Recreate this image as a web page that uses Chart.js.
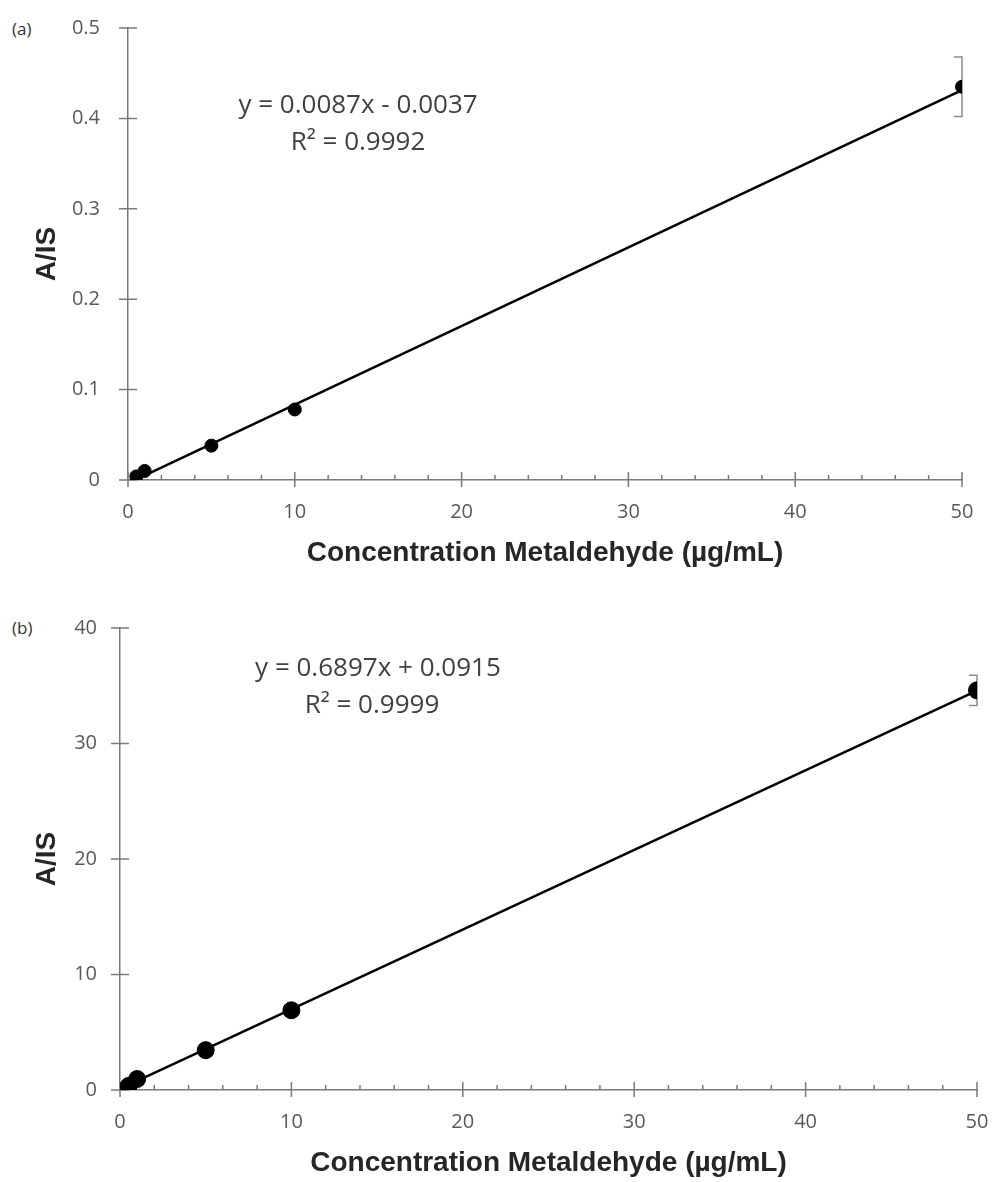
<!DOCTYPE html>
<html>
<head>
<meta charset="utf-8">
<script src="https://cdn.jsdelivr.net/npm/chart.js@4"></script>
<style>
  body { margin: 0; background: #fff; }
  .wrap { position: relative; width: 995px; height: 1182px; }
  canvas { position: absolute; left: 0; }
  .tag { position: absolute; left: 12px; font: 17px/22px "Open Sans", sans-serif; color: #333; }
</style>
</head>
<body>
<div class="wrap">
  <div class="tag" style="top:18px">(a)</div>
  <canvas id="chartA" width="995" height="580" style="top:0"></canvas>
  <div class="tag" style="top:617px">(b)</div>
  <canvas id="chartB" width="995" height="602" style="top:580px"></canvas>
</div>
<script>
// concentrations (µg/mL)
const concA = [0.5, 1, 5, 10, 50];
const ratioA = [0.004, 0.010, 0.038, 0.078, 0.435];
const errA = [0, 0, 0, 0, 0.033];
const trendXA = [0.5, 50];
const trendYA = [0.0007, 0.4313];

const concB = [0.5, 1, 5, 10, 50];
const ratioB = [0.35, 0.95, 3.45, 6.9, 34.6];
const errB = [0, 0, 0, 0, 1.3];
const trendXB = [0.5, 50];
const trendYB = [0.436, 34.58];

const xTitle = 'Concentration Metaldehyde (µg/mL)';
const yTitle = 'A/IS';

const AXIS = '#7a7a7a';
const TICK_FONT = { family: '"Open Sans", sans-serif', size: 20 };
const TITLE_FONT = { family: '"Liberation Sans", Arial, sans-serif', size: 28, weight: 'bold' };

// cross ticks, minor ticks, error bars and fit equation
const decor = {
  id: 'decor',
  beforeDatasetsDraw(chart, args, opts) {
    const ctx = chart.ctx;
    const x = chart.scales.x, y = chart.scales.y;
    const x0 = x.getPixelForValue(0), y0 = y.getPixelForValue(0);
    ctx.save();
    ctx.strokeStyle = AXIS;
    ctx.lineWidth = 1.5;
    ctx.beginPath();
    y.ticks.forEach(t => {
      const py = y.getPixelForValue(t.value);
      ctx.moveTo(x0 - 9, py); ctx.lineTo(x0 + 9, py);
    });
    x.ticks.forEach(t => {
      const px = x.getPixelForValue(t.value);
      ctx.moveTo(px, y0 - 8); ctx.lineTo(px, y0 + 7);
    });
    for (let v = opts.minor; v < x.max; v += opts.minor) {
      const px = x.getPixelForValue(v);
      ctx.moveTo(px, y0); ctx.lineTo(px, y0 - 5);
    }
    ctx.stroke();

    // error bars
    const ds = chart.data.datasets[0];
    ctx.strokeStyle = '#8a8a8a';
    ctx.lineWidth = 1.5;
    ctx.beginPath();
    ds.data.forEach((p, i) => {
      const e = opts.err[i];
      if (!e) return;
      const px = x.getPixelForValue(p.x);
      const hi = y.getPixelForValue(p.y + e), lo = y.getPixelForValue(p.y - e);
      ctx.moveTo(px - 8, hi); ctx.lineTo(px, hi); ctx.lineTo(px, lo); ctx.lineTo(px - 8, lo);
    });
    ctx.stroke();
    ctx.restore();
  },
  afterDraw(chart, args, opts) {
    const ctx = chart.ctx;
    const x = chart.scales.x, y = chart.scales.y;
    ctx.save();
    ctx.fillStyle = '#404040';
    ctx.font = '26px "Open Sans", sans-serif';
    ctx.textAlign = 'center';
    ctx.textBaseline = 'middle';
    const eq = opts.eq;
    ctx.fillText(eq.text, x.getPixelForValue(eq.x), y.getPixelForValue(eq.y));
    const r = opts.r2;
    ctx.fillText('R² = ' + r.text, x.getPixelForValue(r.x), y.getPixelForValue(r.y));
    ctx.restore();
  }
};

function makeChart(id, conc, ratio, tx, ty, cfg) {
  return new Chart(document.getElementById(id), {
    type: 'scatter',
    data: {
      datasets: [
        {
          data: conc.map((c, i) => ({ x: c, y: ratio[i] })),
          backgroundColor: '#000',
          borderColor: '#000',
          pointRadius: cfg.radius,
          order: 0
        },
        {
          type: 'line',
          data: tx.map((c, i) => ({ x: c, y: ty[i] })),
          borderColor: '#000',
          borderWidth: 2.5,
          pointRadius: 0,
          order: 1
        }
      ]
    },
    options: {
      responsive: false,
      animation: false,
      layout: { padding: { top: cfg.top, right: cfg.right, left: 0, bottom: 0 } },
      plugins: {
        legend: { display: false },
        tooltip: { enabled: false },
        decor: { minor: 2, err: cfg.err, eq: cfg.eq, r2: cfg.r2 }
      },
      scales: {
        x: {
          type: 'linear',
          min: 0, max: 50,
          ticks: { stepSize: 10, color: '#595959', font: TICK_FONT, padding: cfg.xPad, maxRotation: 0 },
          grid: { display: true, drawOnChartArea: false, drawTicks: false },
          border: { display: true, color: AXIS, width: 1.5 },
          title: { display: true, text: xTitle, color: '#262626', font: TITLE_FONT, padding: { top: 0, bottom: cfg.xTitlePad } },
          afterFit: s => { s.height = cfg.xHeight; s.paddingLeft = 0; s.paddingRight = 0; }
        },
        y: {
          type: 'linear',
          min: 0, max: cfg.yMax,
          ticks: { stepSize: cfg.yStep, color: '#595959', font: TICK_FONT, padding: cfg.yPad },
          grid: { display: true, drawOnChartArea: false, drawTicks: false },
          border: { display: true, color: AXIS, width: 1.5 },
          title: { display: true, text: yTitle, color: '#262626', font: TITLE_FONT, padding: { top: 30, bottom: 0 } },
          afterFit: s => { s.width = cfg.yWidth; s.paddingTop = 0; s.paddingBottom = 0; }
        }
      }
    },
    plugins: [decor]
  });
}

makeChart('chartA', concA, ratioA, trendXA, trendYA, {
  radius: 6.5, top: 28, right: 33, xHeight: 100, yWidth: 128,
  xPad: 20, yPad: 28, xTitlePad: 10, yMax: 0.5, yStep: 0.1, err: errA,
  eq: { text: 'y = 0.0087x - 0.0037', x: 13.79, y: 0.4137 },
  r2: { text: '0.9992', x: 13.79, y: 0.3728 }
});

makeChart('chartB', concB, ratioB, trendXB, trendYB, {
  radius: 8.5, top: 48, right: 18, xHeight: 92, yWidth: 120,
  xPad: 20, yPad: 23, xTitlePad: 2, yMax: 40, yStep: 10, err: errB,
  eq: { text: 'y = 0.6897x + 0.0915', x: 15.05, y: 36.45 },
  r2: { text: '0.9999', x: 14.7, y: 33.3 }
});
</script>
</body>
</html>
